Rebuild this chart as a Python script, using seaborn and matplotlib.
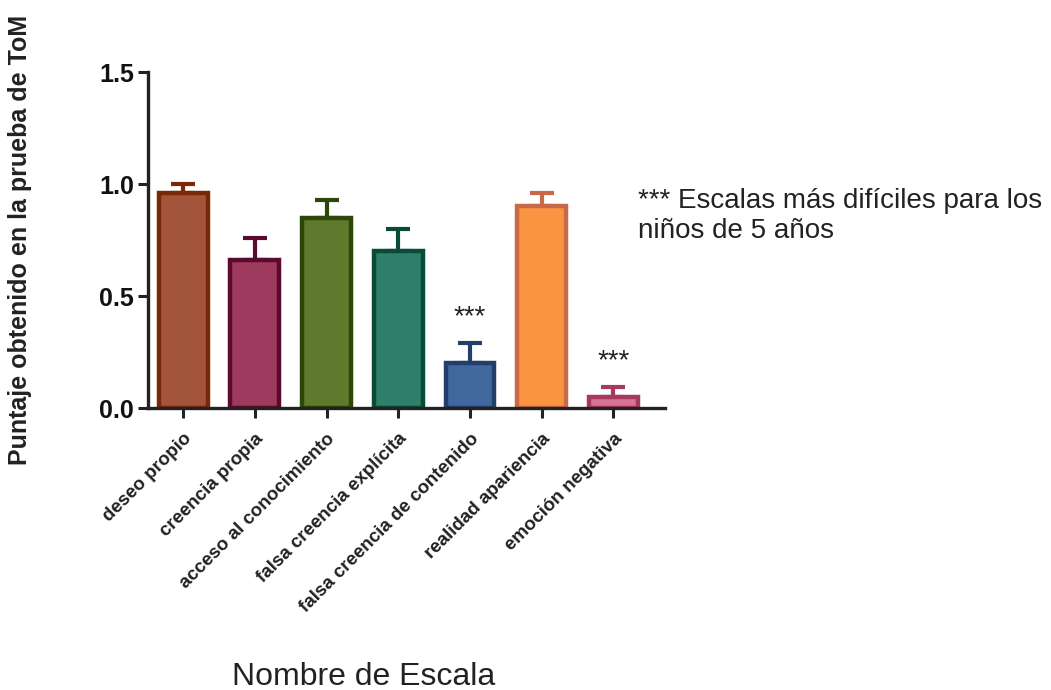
import matplotlib
matplotlib.use("Agg")
import matplotlib.pyplot as plt
import seaborn as sns
import pandas as pd
import numpy as np

categories = ["deseo propio", "creencia propia", "acceso al conocimiento",
              "falsa creencia explícita", "falsa creencia de contenido",
              "realidad apariencia", "emoción negativa"]
means = [0.96, 0.66, 0.85, 0.70, 0.20, 0.90, 0.05]
errors = [0.04, 0.10, 0.08, 0.10, 0.09, 0.06, 0.045]
significant = [False, False, False, False, True, False, True]
fill_colors = ["#A3553B", "#9E3A5D", "#5F7A2D", "#2E806A", "#4268A0", "#FB9440", "#D8749A"]
edge_colors = ["#7A2808", "#5A0A2E", "#2C4708", "#0A4A38", "#233E68", "#C8694A", "#A8385E"]
y_ticks = [0.0, 0.5, 1.0, 1.5]

sns.set_style("ticks")
plt.rcParams["font.family"] = ["Liberation Sans", "DejaVu Sans"]

df = pd.DataFrame({"escala": categories, "puntaje": means})

fig = plt.figure(figsize=(10.51, 6.90), dpi=100)
ax = fig.add_axes([148 / 1051, 1 - 408 / 690, (665 - 148) / 1051, (408 - 72) / 690])

sns.barplot(data=df, x="escala", y="puntaje", hue="escala", palette=fill_colors,
            order=categories, hue_order=categories, legend=False, width=0.68,
            saturation=1, errorbar=None, ax=ax, zorder=2)

for patch, ec in zip(ax.patches, edge_colors):
    patch.set_edgecolor(ec)
    patch.set_linewidth(3.2)

x = np.arange(len(categories))
for xi, m, e, ec in zip(x, means, errors, edge_colors):
    ax.errorbar(xi, m, yerr=[[0], [e]], fmt="none", ecolor=ec, elinewidth=3,
                capsize=8.5, capthick=3, zorder=1)

for xi, m, e, s in zip(x, means, errors, significant):
    if s:
        ax.text(xi, m + e + 0.115, "***", ha="center", va="center", fontsize=20, color="#222222")

ax.set_xlim(-0.49, 6.72)
ax.set_ylim(0, 1.5)
ax.set_yticks(y_ticks)
ax.set_yticklabels([f"{t:.1f}" for t in y_ticks], fontsize=18, fontweight="bold")
ax.set_xticks(x)
ax.set_xticklabels(categories, rotation=45, ha="right", rotation_mode="anchor",
                   fontsize=13.5, fontweight="bold", color="#222222")
ax.tick_params(axis="both", direction="out", length=7, width=2.2, colors="#222222")
ax.tick_params(axis="x", pad=9)
ax.tick_params(axis="y", pad=3, labelcolor="#111111")
for side in ["top", "right"]:
    ax.spines[side].set_visible(False)
for side in ["left", "bottom"]:
    ax.spines[side].set_linewidth(2.4)
    ax.spines[side].set_color("#222222")

ax.set_xlabel("")
ax.set_ylabel("Puntaje obtenido en la prueba de ToM", fontsize=18, fontweight="bold",
              color="#222222", labelpad=0)
ax.yaxis.set_label_coords(-116 / 517, 0.5)

fig.text(364 / 1051, 1 - 677 / 690, "Nombre de Escala", ha="center", va="center",
         fontsize=23, color="#222222")
fig.text(638 / 1051, 1 - 216 / 690, "*** Escalas más difíciles para los\nniños de 5 años",
         ha="left", va="center", fontsize=20, color="#222222", linespacing=1.15)

fig.savefig("out.png", dpi=100)
